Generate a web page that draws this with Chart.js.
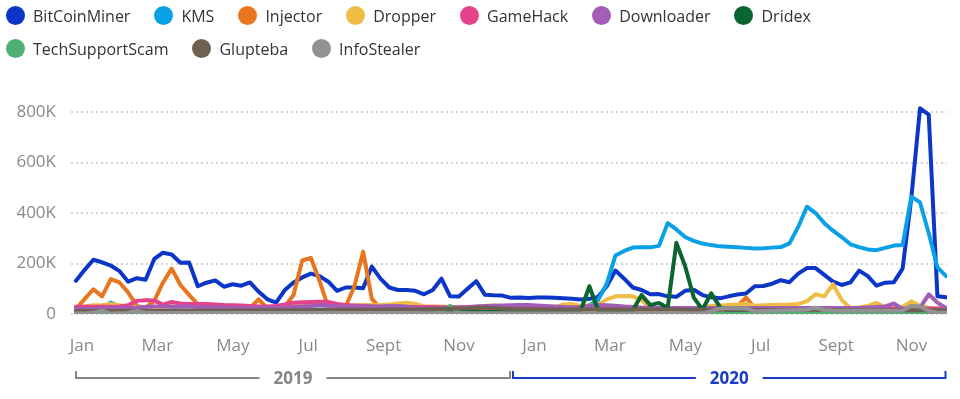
<!DOCTYPE html>
<html>
<head>
<meta charset="utf-8">
<script src="https://cdn.jsdelivr.net/npm/chart.js@4"></script>
<style>
  body { margin: 0; background: #fff; }
  #wrap { position: relative; width: 960px; height: 399px; }
  #legend { position: absolute; left: 6px; top: 6px; width: 954px; display: flex; flex-wrap: wrap; row-gap: 14px;
            font-family: "Open Sans", sans-serif; font-size: 16px; color: #333; }
  .item { display: flex; align-items: center; height: 19px; margin-right: 24px; white-space: nowrap; }
  .dot { width: 19px; height: 19px; border-radius: 50%; margin-right: 8px; }
</style>
</head>
<body>
<div id="wrap">
  <canvas id="chart" width="960" height="399"></canvas>
  <div id="legend"></div>
</div>
<script>
// weekly counts, in thousands, first week of Jan 2019 to Dec 2020
const seriesNames = ['BitCoinMiner', 'KMS', 'Injector', 'Dropper', 'GameHack', 'Downloader', 'Dridex', 'TechSupportScam', 'Glupteba', 'InfoStealer'];
const seriesColors = ['#0b36c8', '#0aa0e6', '#e8761f', '#efbd43', '#e4428a', '#a25db6', '#0b6530', '#50b073', '#6e6151', '#929292'];

const bitCoinMiner = [132, 175, 215, 205, 192, 170, 128, 142, 136, 218,
  243, 236, 203, 204, 110, 124, 133, 108, 118, 112,
  125, 88, 58, 45, 95, 125, 145, 160, 150, 128,
  92, 105, 105, 102, 188, 140, 105, 95, 95, 92,
  78, 95, 140, 70, 69, 100, 130, 76, 74, 73,
  64, 65, 63, 65, 65, 64, 62, 60, 57, 60,
  68, 110, 172, 140, 105, 95, 78, 79, 70, 68,
  92, 96, 75, 66, 62, 70, 77, 81, 110, 111,
  120, 134, 126, 160, 182, 182, 155, 128, 115, 125,
  172, 150, 112, 124, 126, 180, 460, 815, 790, 70,
  66];
const kms = [15, 15, 18, 20, 45, 30, 18, 18, 18, 18,
  18, 18, 18, 18, 18, 18, 18, 18, 18, 18,
  18, 18, 18, 18, 18, 18, 18, 18, 18, 18,
  18, 18, 18, 18, 18, 18, 18, 18, 18, 18,
  18, 18, 18, 18, 18, 18, 18, 18, 18, 18,
  18, 18, 18, 18, 18, 18, 18, 18, 25, 35,
  55, 120, 232, 250, 263, 264, 264, 270, 360, 335,
  305, 290, 279, 273, 268, 266, 264, 262, 260, 261,
  263, 265, 280, 345, 425, 400, 360, 330, 305, 276,
  265, 256, 253, 262, 271, 273, 465, 442, 320, 185,
  150];
const injector = [20, 60, 98, 70, 138, 125, 85, 32, 25, 52,
  125, 180, 115, 76, 38, 22, 22, 22, 22, 22,
  25, 58, 22, 22, 30, 75, 212, 222, 130, 25,
  22, 30, 110, 247, 60, 22, 22, 22, 22, 22,
  20, 20, 20, 20, 20, 20, 20, 20, 20, 20,
  20, 20, 20, 20, 20, 18, 18, 18, 18, 18,
  18, 18, 18, 18, 18, 18, 18, 18, 18, 18,
  18, 18, 18, 18, 18, 18, 30, 65, 25, 18,
  18, 18, 18, 18, 18, 18, 18, 18, 18, 18,
  18, 18, 18, 18, 18, 18, 18, 18, 18, 18,
  18];
const dropper = [25, 30, 35, 35, 40, 35, 30, 28, 25, 25,
  28, 30, 30, 30, 28, 28, 28, 28, 28, 28,
  25, 25, 25, 25, 28, 32, 35, 40, 40, 35,
  32, 32, 34, 36, 36, 36, 38, 42, 45, 40,
  30, 30, 30, 28, 25, 25, 30, 32, 34, 32,
  30, 28, 26, 24, 24, 26, 38, 40, 32, 34,
  36, 58, 70, 71, 70, 55, 25, 22, 22, 22,
  22, 24, 28, 32, 34, 36, 38, 40, 33, 35,
  36, 37, 38, 40, 50, 78, 70, 118, 55, 24,
  26, 32, 44, 26, 23, 28, 50, 32, 25, 22,
  22];
const gameHack = [29, 29, 29, 29, 29, 30, 35, 52, 55, 53,
  37, 48, 42, 40, 40, 40, 38, 36, 35, 34,
  32, 30, 30, 32, 38, 45, 47, 48, 49, 48,
  40, 36, 34, 32, 30, 29, 29, 28, 28, 28,
  28, 28, 27, 27, 27, 27, 27, 26, 26, 26,
  26, 26, 25, 25, 25, 25, 25, 25, 25, 25,
  25, 25, 25, 24, 24, 24, 24, 24, 24, 24,
  24, 24, 24, 24, 23, 23, 23, 23, 23, 23,
  23, 23, 22, 22, 22, 22, 22, 22, 22, 22,
  22, 22, 22, 22, 22, 22, 22, 22, 22, 22,
  22];
const downloader = [20, 20, 20, 22, 24, 24, 25, 26, 28, 30,
  30, 30, 30, 30, 28, 28, 27, 26, 25, 25,
  24, 24, 24, 25, 26, 28, 30, 32, 36, 33,
  30, 30, 30, 30, 30, 30, 32, 32, 30, 25,
  22, 22, 24, 25, 26, 28, 30, 32, 33, 34,
  35, 36, 36, 34, 32, 30, 28, 26, 28, 32,
  36, 35, 33, 30, 28, 26, 25, 24, 24, 24,
  24, 24, 24, 24, 24, 24, 24, 24, 24, 24,
  24, 24, 24, 24, 24, 24, 24, 24, 24, 24,
  24, 26, 28, 30, 42, 19, 21, 24, 78, 45,
  24];
const dridex = [8, 8, 8, 8, 8, 8, 8, 8, 8, 8,
  8, 8, 8, 8, 8, 8, 8, 8, 8, 8,
  8, 8, 8, 8, 8, 8, 8, 8, 8, 8,
  8, 8, 8, 8, 8, 8, 8, 8, 8, 8,
  8, 8, 8, 8, 8, 8, 8, 8, 8, 8,
  8, 8, 8, 8, 8, 8, 8, 8, 12, 110,
  15, 15, 14, 14, 15, 75, 35, 44, 25, 282,
  190, 65, 18, 82, 28, 10, 10, 10, 10, 10,
  10, 10, 10, 10, 10, 10, 10, 10, 10, 10,
  10, 10, 10, 10, 10, 10, 10, 10, 10, 10,
  10];
const techSupportScam = [1, 1, 1, 1, 1, 1, 1, 3, 8, 3,
  1, 1, 1, 1, 1, 1, 1, 1, 1, 1,
  1, 1, 1, 1, 1, 1, 1, 1, 1, 1,
  1, 1, 1, 1, 1, 1, 1, 1, 1, 1,
  1, 1, 5, 32, 5, 1, 1, 1, 1, 1,
  1, 1, 1, 1, 1, 1, 1, 1, 1, 1,
  1, 1, 1, 1, 1, 1, 1, 1, 1, 1,
  1, 1, 1, 1, 1, 1, 1, 1, 1, 1,
  1, 1, 1, 1, 1, 1, 1, 1, 1, 1,
  1, 1, 1, 1, 1, 1, 1, 1, 1, 1,
  1];
const glupteba = [12, 12, 12, 12, 12, 12, 12, 12, 12, 12,
  12, 12, 12, 12, 13, 13, 13, 13, 14, 14,
  14, 15, 15, 15, 15, 15, 15, 16, 16, 16,
  16, 16, 17, 17, 17, 17, 18, 18, 18, 18,
  19, 20, 20, 21, 22, 23, 25, 26, 24, 22,
  20, 20, 19, 19, 18, 18, 18, 18, 18, 18,
  18, 18, 18, 18, 18, 18, 18, 18, 18, 18,
  17, 17, 17, 17, 17, 17, 17, 17, 17, 16,
  16, 16, 16, 16, 16, 16, 16, 16, 16, 16,
  15, 15, 15, 15, 15, 15, 15, 15, 15, 15,
  15];
const infoStealer = [3, 2, 5, 13, 1, 3, 4, 12, 5, 4,
  4, 4, 4, 4, 4, 4, 4, 4, 4, 4,
  4, 4, 4, 4, 4, 4, 4, 4, 4, 4,
  4, 4, 4, 4, 4, 4, 4, 4, 4, 4,
  3, 3, 3, 3, 3, 3, 3, 3, 3, 3,
  2, 2, 2, 2, 2, 2, 2, 2, 2, 2,
  2, 2, 2, 2, 2, 2, 2, 2, 2, 2,
  2, 2, 2, 10, 22, 23, 23, 22, 10, 12,
  13, 14, 15, 16, 18, 25, 16, 14, 13, 13,
  13, 13, 13, 13, 13, 14, 33, 30, 12, 5,
  5];
const seriesValues = [bitCoinMiner, kms, injector, dropper, gameHack, downloader, dridex, techSupportScam, glupteba, infoStealer];

// x axis is in months from Jan 2019
const firstWeek = -0.16;
const weekStep = 12 / 52;
const monthTicks = [0, 2, 4, 6, 8, 10, 12, 14, 16, 18, 20, 22];
const monthLabels = ['Jan', 'Mar', 'May', 'Jul', 'Sept', 'Nov', 'Jan', 'Mar', 'May', 'Jul', 'Sept', 'Nov'];
const yTicks = [0, 200, 400, 600, 800];

const years = ['2019', '2020'];
const yearSpans = [[-0.16, 11.35], [11.43, 22.9]];
const yearColors = ['#868686', '#1a3cc2'];

const axisFont = { family: '"Open Sans", sans-serif', size: 17 };

const yearBrackets = {
  id: 'yearBrackets',
  afterDraw(chart) {
    const ctx = chart.ctx;
    const xs = chart.scales.x;
    const lineY = 378;
    ctx.save();
    ctx.font = 'bold 17px "Open Sans", sans-serif';
    ctx.textAlign = 'center';
    ctx.textBaseline = 'middle';
    years.forEach((label, k) => {
      const x0 = xs.getPixelForValue(yearSpans[k][0]);
      const x1 = xs.getPixelForValue(yearSpans[k][1]);
      const mid = (x0 + x1) / 2;
      const half = ctx.measureText(label).width / 2 + 14;
      ctx.strokeStyle = yearColors[k];
      ctx.fillStyle = yearColors[k];
      ctx.lineWidth = 2;
      ctx.beginPath();
      ctx.moveTo(x0, lineY - 7);
      ctx.lineTo(x0, lineY);
      ctx.lineTo(mid - half, lineY);
      ctx.moveTo(mid + half, lineY);
      ctx.lineTo(x1, lineY);
      ctx.lineTo(x1, lineY - 7);
      ctx.stroke();
      ctx.fillText(label, mid, lineY + 1);
    });
    ctx.restore();
  }
};

const datasets = seriesNames.map((name, i) => ({
  label: name,
  data: seriesValues[i].map((v, w) => ({ x: firstWeek + w * weekStep, y: v })),
  borderColor: seriesColors[i],
  backgroundColor: seriesColors[i],
  order: seriesNames.length - i
}));

new Chart(document.getElementById('chart'), {
  type: 'line',
  data: { datasets: datasets },
  options: {
    responsive: false,
    animation: false,
    layout: { padding: { top: 102, right: 13, bottom: 0, left: 0 } },
    plugins: { legend: { display: false }, tooltip: { enabled: false } },
    elements: {
      point: { radius: 0 },
      line: { borderWidth: 4, tension: 0, borderJoinStyle: 'round', borderCapStyle: 'round' }
    },
    scales: {
      x: {
        type: 'linear',
        min: -0.292,
        max: 22.94,
        afterBuildTicks: s => { s.ticks = monthTicks.map(v => ({ value: v })); },
        afterFit: s => { s.height = 85; },
        grid: { display: false, drawTicks: false },
        border: { display: false },
        ticks: {
          autoSkip: false, maxRotation: 0, padding: 22,
          color: '#8a8a8a', font: axisFont,
          callback: (v, i) => monthLabels[i]
        }
      },
      y: {
        min: 0,
        max: 840,
        afterBuildTicks: s => { s.ticks = yTicks.map(v => ({ value: v })); },
        afterFit: s => { s.width = 71; },
        grid: { color: '#d6d6d6', lineWidth: 2, drawTicks: false },
        border: { display: false, dash: [2, 3] },
        ticks: {
          padding: 15, color: '#8a8a8a', font: axisFont,
          callback: v => v === 0 ? '0' : v + 'K'
        }
      }
    }
  },
  plugins: [yearBrackets]
});

// legend
const legendBox = document.getElementById('legend');
seriesNames.forEach((name, i) => {
  const item = document.createElement('div');
  item.className = 'item';
  const dot = document.createElement('span');
  dot.className = 'dot';
  dot.style.background = seriesColors[i];
  const txt = document.createElement('span');
  txt.textContent = name;
  item.appendChild(dot);
  item.appendChild(txt);
  legendBox.appendChild(item);
});
</script>
</body>
</html>
